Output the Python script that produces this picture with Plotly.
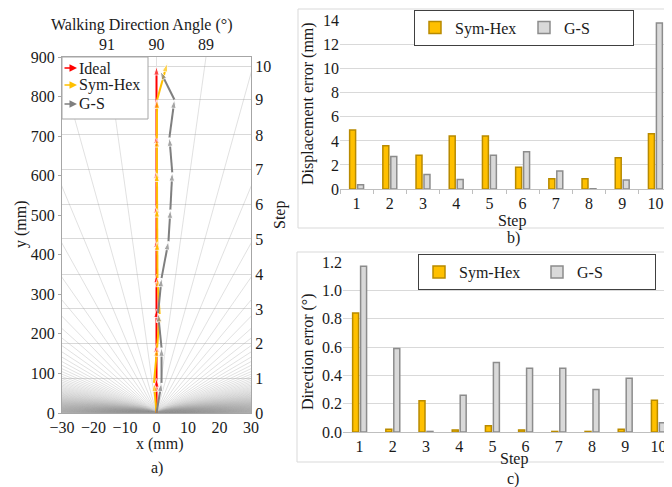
import numpy as np
import plotly.graph_objects as go

# ---------------- data ----------------
step_labels = ["0", "1", "2", "3", "4", "5", "6", "7", "8", "9", "10"]
ideal_x = [0, 0, 0, 0, 0, 0, 0, 0, 0, 0, 0]
ideal_y = [0, 87, 175, 263, 351, 440, 527, 615, 703, 792, 876]
symhex_x = [0, -0.8, 0.2, 1.0, 0.3, 0.2, 0.1, 0.1, 0.1, 0.2, 3.4]
symhex_y = [0, 76, 165, 250, 341, 433, 517, 607, 694, 792, 884]
gs_x = [0, 1.6, 1.6, 0.5, 1.6, 3.8, 4.4, 5.0, 4.1, 5.7, 1.2]
gs_y = [0, 76, 165, 252, 341, 434, 514, 608, 696, 792, 864]
angle_ticks = [91, 90, 89]

steps = ["1", "2", "3", "4", "5", "6", "7", "8", "9", "10"]
disp_symhex = [4.9, 3.6, 2.8, 4.4, 4.4, 1.8, 0.85, 0.85, 2.6, 4.6]
disp_gs = [0.35, 2.7, 1.2, 0.8, 2.8, 3.1, 1.5, 0.02, 0.75, 13.8]
dir_symhex = [0.84, 0.02, 0.22, 0.015, 0.045, 0.015, 0.004, 0.004, 0.02, 0.225]
dir_gs = [1.17, 0.59, 0.004, 0.26, 0.49, 0.45, 0.45, 0.30, 0.38, 0.065]

# ---------------- helpers ----------------
# the page body keeps its default 8px margin, so the figure is drawn 8px in
OFF = 8
W, H = 672 - OFF, 487 - OFF
def px(x):
    return (x - OFF) / W
def py(y):
    return 1 - (y - OFF) / H

FONT = "Liberation Serif"
TXT = "#1a1a1a"
FS = 16
YEL = "#FFC000"
YEL_EDGE = "#B88A00"
GRY = "#D9D9D9"
GRY_EDGE = "#8C8C8C"

fig = go.Figure()

# radial angle grid (every 1 degree from origin)
rx, ry = [], []
for a in np.radians(np.arange(0, 181, 1)):
    rx += [0, 3000 * np.cos(a), None]
    ry += [0, 3000 * np.sin(a), None]
fig.add_trace(go.Scatter(x=rx, y=ry, mode="lines",
                         line=dict(color="rgba(150,150,150,0.42)", width=0.7),
                         hoverinfo="skip", showlegend=False))

for name, xs, ys, col in [("Ideal", ideal_x, ideal_y, "#FF0000"),
                          ("Sym-Hex", symhex_x, symhex_y, "#FFC000"),
                          ("G-S", gs_x, gs_y, "#7F7F7F")]:
    fig.add_trace(go.Scatter(
        x=xs, y=ys, mode="lines+markers", name=name, xaxis="x2", yaxis="y2",
        line=dict(color=col, width=2),
        marker=dict(symbol="arrow", angleref="previous", color=col,
                    size=[0] + [9] * (len(xs) - 1)),
        showlegend=False))

# bar chart b
fig.add_trace(go.Bar(x=steps, y=disp_symhex, name="Sym-Hex", xaxis="x3", yaxis="y3",
                     marker=dict(color=YEL, line=dict(color=YEL_EDGE, width=1.5)),
                     legend="legend2"))
fig.add_trace(go.Bar(x=steps, y=disp_gs, name="G-S", xaxis="x3", yaxis="y3",
                     marker=dict(color=GRY, line=dict(color=GRY_EDGE, width=1.5)),
                     legend="legend2"))
# bar chart c
fig.add_trace(go.Bar(x=steps, y=dir_symhex, name="Sym-Hex", xaxis="x4", yaxis="y4",
                     marker=dict(color=YEL, line=dict(color=YEL_EDGE, width=1.5)),
                     legend="legend3"))
fig.add_trace(go.Bar(x=steps, y=dir_gs, name="G-S", xaxis="x4", yaxis="y4",
                     marker=dict(color=GRY, line=dict(color=GRY_EDGE, width=1.5)),
                     legend="legend3"))

angle_pos = [900 / np.tan(np.radians(a)) for a in angle_ticks]
tf = dict(family=FONT, size=FS, color=TXT)
AX = "#a6a6a6"

fig.update_layout(
    width=W, height=H, margin=dict(l=0, r=0, t=0, b=0, autoexpand=False),
    paper_bgcolor="white", plot_bgcolor="white",
    font=dict(family=FONT, size=FS, color=TXT),
    barmode="group", bargap=0.52, bargroupgap=0.25,
    xaxis=dict(domain=[px(62), px(251)], anchor="y", range=[-30, 30], dtick=10,
               showline=True, linecolor=AX, showgrid=False, zeroline=False,
               ticks="", tickfont=tf, automargin=False),
    yaxis=dict(domain=[py(413), py(57)], anchor="x", range=[0, 900], dtick=100,
               showline=True, linecolor=AX, showgrid=False, zeroline=False,
               ticks="outside", ticklen=3, tickcolor=AX, tickfont=tf, automargin=False),
    xaxis2=dict(overlaying="x", side="top", anchor="y", range=[-30, 30],
                tickvals=angle_pos, ticktext=[str(a) for a in angle_ticks],
                showline=True, linecolor=AX, showgrid=False, zeroline=False,
                ticks="", tickfont=tf, automargin=False),
    yaxis2=dict(overlaying="y", side="right", anchor="x", range=[0, 900],
                tickvals=ideal_y, ticktext=step_labels,
                showline=True, linecolor=AX, showgrid=True, gridcolor="#d9d9d9",
                zeroline=False, ticks="", tickfont=tf, automargin=False),
    xaxis3=dict(domain=[px(340), 1.0], anchor="y3", type="category",
                showline=True, linecolor="#bfbfbf", ticks="outside", tickson="boundaries",
                ticklen=4, tickcolor="#bfbfbf", showgrid=False, tickfont=tf, automargin=False),
    yaxis3=dict(domain=[py(189), py(20.7)], anchor="x3", range=[0, 14], dtick=2,
                showgrid=True, gridcolor="#d9d9d9", zeroline=False, showline=False,
                ticks="", tickfont=tf, automargin=False),
    xaxis4=dict(domain=[px(343), 1.0], anchor="y4", type="category", range=[-0.5, 9.41],
                showline=True, linecolor="#bfbfbf", ticks="", showgrid=False, tickfont=tf,
                automargin=False),
    yaxis4=dict(domain=[py(432), py(262)], anchor="x4", range=[0, 1.2], dtick=0.2,
                tickformat=".1f", showgrid=True, gridcolor="#d9d9d9", zeroline=False,
                showline=False, ticks="", tickfont=tf, automargin=False),
    legend2=dict(x=px(414), y=py(27.5), xanchor="left", yanchor="middle", orientation="h",
                 entrywidth=64, bgcolor="white", bordercolor="#404040", borderwidth=1,
                 font=tf),
    legend3=dict(x=px(418), y=py(272), xanchor="left", yanchor="middle", orientation="h",
                 entrywidth=73, bgcolor="white", bordercolor="#404040", borderwidth=1,
                 font=tf),
)

shapes = [
    dict(type="rect", xref="paper", yref="paper", x0=px(298), x1=1.01, y0=py(228), y1=py(9),
         line=dict(color="#d9d9d9", width=1), fillcolor="rgba(0,0,0,0)", layer="below"),
    dict(type="rect", xref="paper", yref="paper", x0=px(297), x1=1.01, y0=py(462), y1=py(252),
         line=dict(color="#d9d9d9", width=1), fillcolor="rgba(0,0,0,0)", layer="below"),
    dict(type="rect", xref="paper", yref="paper", x0=px(62), x1=px(148), y0=py(119), y1=py(57),
         line=dict(color="#a6a6a6", width=1), fillcolor="white", layer="above"),
]

ann = []
def text(t, x, y, rot=0, anchor="center", size=FS):
    ann.append(dict(text=t, x=px(x), y=py(y), xref="paper", yref="paper",
                    showarrow=False, textangle=rot, xanchor=anchor, yanchor="middle",
                    font=dict(family=FONT, size=size, color=TXT)))

text("Walking Direction Angle (°)", 142, 25)
text("x (mm)", 160, 444)
text("a)", 157, 468)
text("y (mm)", 21, 224, rot=-90)
text("Step", 280, 215, rot=-90)
text("Displacement error (mm)", 308, 104, rot=-90)
text("Step", 512, 221)
text("b)", 513, 238)
text("Direction error (°)", 308, 352, rot=-90)
text("Step", 514, 459)
text("c)", 513, 479)

# manual legend for panel a
for lab, col, yy in [("Ideal", "#FF0000", 68), ("Sym-Hex", "#FFC000", 85), ("G-S", "#7F7F7F", 104)]:
    ann.append(dict(x=px(77), y=py(yy), xref="paper", yref="paper", text="",
                    showarrow=True, ax=-14, ay=0, arrowhead=2, arrowsize=1,
                    arrowwidth=1.5, arrowcolor=col))
    text(lab, 77, yy, anchor="left")

fig.update_layout(shapes=shapes, annotations=ann)
fig.write_html("out.html")
